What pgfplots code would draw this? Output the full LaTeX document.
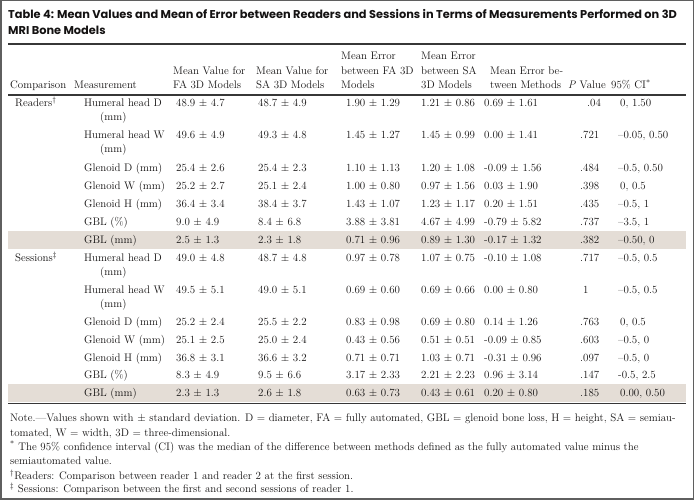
\documentclass[border=0pt]{standalone}
\usepackage{fontspec}
\usepackage{pgfplots}
\pgfplotsset{compat=1.18}
\newfontfamily\titlefont{Poppins}
\definecolor{band}{RGB}{228,221,214}
\definecolor{rulec}{RGB}{55,55,55}
\definecolor{framec}{RGB}{95,95,95}
\definecolor{txt}{RGB}{20,18,18}
\newcommand{\bodyfont}{\fontsize{11}{13}\selectfont}
\newcommand{\notefont}{\fontsize{11}{13}\selectfont}
\newcommand{\T}[3]{\node[anchor=base west,inner sep=0pt,font=\bodyfont,text=txt] at (axis cs:#1,#2) {#3};}
\newcommand{\N}[3]{\node[anchor=base west,inner sep=0pt,font=\notefont,text=txt] at (axis cs:#1,#2) {#3};}
\newcommand{\R}[9]{\T{84}{#1}{#2}\T{176}{#1}{#3}\T{258}{#1}{#4}\T{346}{#1}{#5}\T{421}{#1}{#6}\T{484}{#1}{#7}\T{580}{#1}{#8}\T{618}{#1}{#9}}
\newcommand{\pmm}{$\pm$}
\newcommand{\n}{\textendash}
\begin{document}
\begin{tikzpicture}
\begin{axis}[width=694bp,height=500bp,scale only axis,
  xmin=0,xmax=694,ymin=0,ymax=500,y dir=reverse,hide axis,clip=false]
% shaded rows
\addplot[fill=band,draw=none] coordinates {(8,231) (686,231) (686,249.5) (8,249.5)} --cycle;
\addplot[fill=band,draw=none] coordinates {(8,384) (686,384) (686,402.5) (8,402.5)} --cycle;
% rules
\addplot[rulec,line width=1.3bp] coordinates {(8,44) (686,44)};
\addplot[rulec,line width=1.3bp] coordinates {(8,95) (686,95)};
\addplot[rulec,line width=1bp] coordinates {(8,403.5) (686,403.5)};
% frame
\draw[framec,line width=1.5bp] (axis cs:0.75,0.75) rectangle (axis cs:693.25,499.25);
% title
\node[anchor=base west,inner sep=0pt,text=txt,font=\titlefont\bfseries\fontsize{11.4}{13}\selectfont] at (axis cs:8,18.5) {Table 4: Mean Values and Mean of Error between Readers and Sessions in Terms of Measurements Performed on 3D};
\node[anchor=base west,inner sep=0pt,text=txt,font=\titlefont\bfseries\fontsize{11.4}{13}\selectfont] at (axis cs:8,35) {MRI Bone Models};
% header
\T{341}{60}{Mean Error}
\T{421}{60}{Mean Error}
\T{173}{74.5}{Mean Value for}
\T{256}{74.5}{Mean Value for}
\T{341}{74.5}{between FA 3D}
\T{421}{74.5}{between SA}
\T{490}{74.5}{Mean Error be-}
\T{10}{89}{Comparison}
\T{74}{89}{Measurement}
\T{173}{89}{FA 3D Models}
\T{256}{89}{SA 3D Models}
\T{341}{89}{Models}
\T{421}{89}{3D Models}
\T{490}{89}{tween Methods}
\T{568}{89}{\textit{P} Value}
\T{611}{89}{95\% CI\textsuperscript{*}}
% Readers
\T{15}{106.5}{Readers\textsuperscript{\dag}}
\R{106.5}{Humeral head D}{48.9 \pmm{} 4.7}{48.7 \pmm{} 4.9}{1.90 \pmm{} 1.29}{1.21 \pmm{} 0.86}{0.69 \pmm{} 1.61}{\hspace{7bp}.04}{\hspace{2bp}0, 1.50}
\T{100}{121}{(mm)}
\R{138.5}{Humeral head W}{49.6 \pmm{} 4.9}{49.3 \pmm{} 4.8}{1.45 \pmm{} 1.27}{1.45 \pmm{} 0.99}{0.00 \pmm{} 1.41}{.721}{\n0.05, 0.50}
\T{100}{153}{(mm)}
\R{171.5}{Glenoid D (mm)}{25.4 \pmm{} 2.6}{25.4 \pmm{} 2.3}{1.10 \pmm{} 1.13}{1.20 \pmm{} 1.08}{-0.09 \pmm{} 1.56}{.484}{\n0.5, 0.50}
\R{189.5}{Glenoid W (mm)}{25.2 \pmm{} 2.7}{25.1 \pmm{} 2.4}{1.00 \pmm{} 0.80}{0.97 \pmm{} 1.56}{0.03 \pmm{} 1.90}{.398}{\hspace{2bp}0, 0.5}
\R{207.5}{Glenoid H (mm)}{36.4 \pmm{} 3.4}{38.4 \pmm{} 3.7}{1.43 \pmm{} 1.07}{1.23 \pmm{} 1.17}{0.20 \pmm{} 1.51}{.435}{\n0.5, 1}
\R{225.5}{GBL (\%)}{9.0 \pmm{} 4.9}{8.4 \pmm{} 6.8}{3.88 \pmm{} 3.81}{4.67 \pmm{} 4.99}{-0.79 \pmm{} 5.82}{.737}{\n3.5, 1}
\R{243.5}{GBL (mm)}{2.5 \pmm{} 1.3}{2.3 \pmm{} 1.8}{0.71 \pmm{} 0.96}{0.89 \pmm{} 1.30}{-0.17 \pmm{} 1.32}{.382}{\n0.50, 0}
% Sessions
\T{15}{261.5}{Sessions\textsuperscript{\ddag}}
\R{261.5}{Humeral head D}{49.0 \pmm{} 4.8}{48.7 \pmm{} 4.8}{0.97 \pmm{} 0.78}{1.07 \pmm{} 0.75}{-0.10 \pmm{} 1.08}{.717}{\n0.5, 0.5}
\T{100}{276}{(mm)}
\R{293.5}{Humeral head W}{49.5 \pmm{} 5.1}{49.0 \pmm{} 5.1}{0.69 \pmm{} 0.60}{0.69 \pmm{} 0.66}{0.00 \pmm{} 0.80}{\hspace{3bp}1}{\n0.5, 0.5}
\T{100}{308}{(mm)}
\R{325.5}{Glenoid D (mm)}{25.2 \pmm{} 2.4}{25.5 \pmm{} 2.2}{0.83 \pmm{} 0.98}{0.69 \pmm{} 0.80}{0.14 \pmm{} 1.26}{.763}{\hspace{2bp}0, 0.5}
\R{343.5}{Glenoid W (mm)}{25.1 \pmm{} 2.5}{25.0 \pmm{} 2.4}{0.43 \pmm{} 0.56}{0.51 \pmm{} 0.51}{-0.09 \pmm{} 0.85}{.603}{\n0.5, 0}
\R{361.5}{Glenoid H (mm)}{36.8 \pmm{} 3.1}{36.6 \pmm{} 3.2}{0.71 \pmm{} 0.71}{1.03 \pmm{} 0.71}{-0.31 \pmm{} 0.96}{.097}{\n0.5, 0}
\R{379}{GBL (\%)}{8.3 \pmm{} 4.9}{9.5 \pmm{} 6.6}{3.17 \pmm{} 2.33}{2.21 \pmm{} 2.23}{0.96 \pmm{} 3.14}{.147}{-0.5, 2.5}
\R{396.5}{GBL (mm)}{2.3 \pmm{} 1.3}{2.6 \pmm{} 1.8}{0.63 \pmm{} 0.73}{0.43 \pmm{} 0.61}{0.20 \pmm{} 0.80}{.185}{\hspace{2bp}0.00, 0.50}
% notes
\N{10}{421.5}{Note.\textemdash Values shown with \pmm{} standard deviation. D = diameter, FA = fully automated, GBL = glenoid bone loss, H = height, SA = semiau-}
\N{10}{436.5}{tomated, W = width, 3D = three-dimensional.}
\N{10}{450.5}{\textsuperscript{*} The 95\% confidence interval (CI) was the median of the difference between methods defined as the fully automated value minus the}
\N{10}{464.5}{semiautomated value.}
\N{10}{479.5}{\textsuperscript{\dag}Readers: Comparison between reader 1 and reader 2 at the first session.}
\N{10}{492.5}{\textsuperscript{\ddag} Sessions: Comparison between the first and second sessions of reader 1.}
\end{axis}
\end{tikzpicture}
\end{document}
